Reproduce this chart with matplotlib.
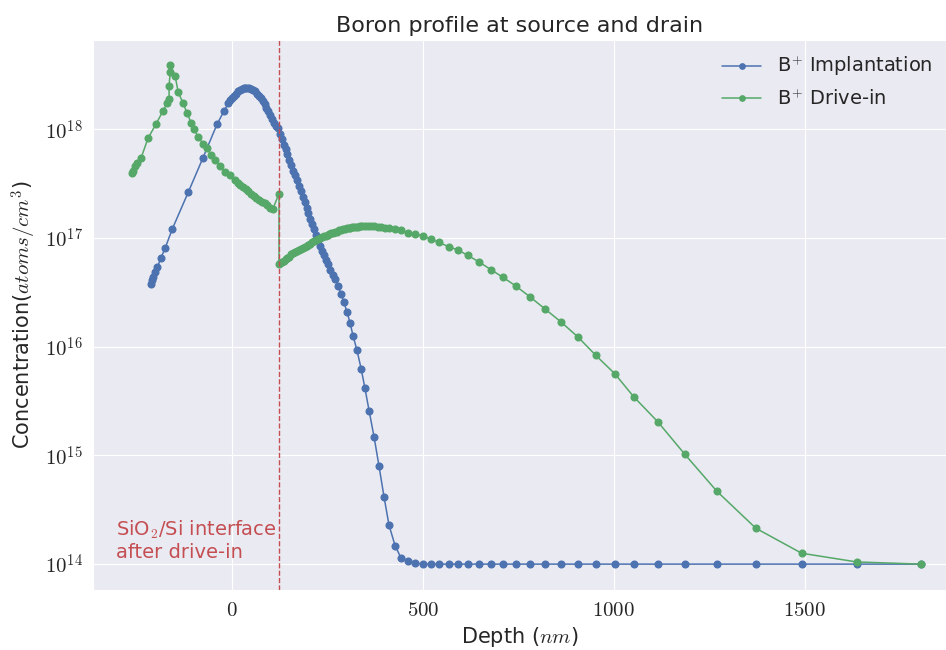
import numpy as np
import matplotlib
matplotlib.use("Agg")
import matplotlib.pyplot as plt
import matplotlib.ticker as mticker
import seaborn as sns

# Boron implantation profile (depth in nm, log10 of concentration)
implant_depth = [-212, -209, -207, -202, -196, -186, -175, -157, -115, -76, -39, -21,
                 -10, -5, 0, 5, 10, 15, 20, 25, 30, 35, 40, 45, 50, 55, 60, 65, 70, 75,
                 80, 85, 90, 95, 100, 105, 110, 115, 120, 125, 130, 135, 140, 145, 150,
                 155, 160, 165, 170, 175, 180, 185, 190, 195, 200, 205, 210, 215, 220,
                 225, 230, 235, 240, 245, 250, 257, 264, 270, 277, 285, 293, 301, 309,
                 317, 327, 338, 348, 359, 372, 385, 398, 411, 427, 442, 461, 479, 500,
                 521, 542, 568, 592, 618, 647, 678, 709, 743, 780, 819, 861, 906, 953,
                 1003, 1052, 1115, 1186, 1270, 1372, 1492, 1636, 1804]
implant_log = [16.58, 16.61, 16.64, 16.69, 16.73, 16.82, 16.91, 17.08, 17.42, 17.74, 18.05, 18.17,
               18.24, 18.27, 18.29, 18.31, 18.33, 18.35, 18.36, 18.37, 18.38, 18.38, 18.38, 18.38,
               18.37, 18.36, 18.35, 18.33, 18.31, 18.29, 18.26, 18.23, 18.20, 18.17, 18.13, 18.10,
               18.06, 18.03, 18.01, 17.96, 17.91, 17.86, 17.82, 17.77, 17.72, 17.67, 17.62, 17.58,
               17.53, 17.48, 17.43, 17.38, 17.33, 17.28, 17.23, 17.18, 17.13, 17.08, 17.03, 16.98,
               16.93, 16.88, 16.84, 16.80, 16.76, 16.71, 16.66, 16.62, 16.56, 16.49, 16.41, 16.32,
               16.22, 16.10, 15.97, 15.80, 15.62, 15.41, 15.17, 14.90, 14.62, 14.36, 14.17, 14.06,
               14.03, 14.01, 14.00, 14.00, 14.00, 14.00, 14.00, 14.00, 14.00, 14.00, 14.00, 14.00,
               14.00, 14.00, 14.00, 14.00, 14.00, 14.00, 14.00, 14.00, 14.00, 14.00, 14.00, 14.00,
               14.00, 14.00]

# Boron after drive-in
drive_depth = [-262, -259, -254, -249, -238, -220, -199, -181, -170, -165, -165, -162, -162,
               -149, -141, -128, -118, -107, -99, -89, -76, -65, -55, -45, -31, -18, -5, 8,
               15, 22, 29, 36, 43, 50, 57, 64, 71, 78, 85, 92, 99, 107, 123,
               123, 125, 130, 135, 140, 145, 150, 155, 160, 165, 170, 175, 180, 185, 190, 195,
               200, 205, 210, 215, 220, 225, 230, 235, 240, 245, 250, 255, 260, 265, 270, 275,
               280, 285, 290, 295, 300, 305, 310, 315, 320, 325, 330, 335, 340, 348, 356, 364,
               372, 381, 391, 400, 411, 427, 442, 461, 479, 500, 521, 542, 568, 592, 618, 647,
               678, 709, 743, 780, 819, 861, 906, 953, 1003, 1052, 1115, 1186, 1270, 1372,
               1492, 1636, 1804]
drive_log = [17.60, 17.62, 17.66, 17.69, 17.74, 17.92, 18.05, 18.17, 18.24, 18.28, 18.40, 18.53, 18.59,
             18.49, 18.34, 18.24, 18.15, 18.06, 18.00, 17.93, 17.87, 17.83, 17.76, 17.72, 17.66, 17.61,
             17.58, 17.53, 17.51, 17.49, 17.47, 17.45, 17.43, 17.41, 17.39, 17.37, 17.35, 17.33, 17.32,
             17.30, 17.28, 17.27, 17.41,
             16.76, 16.77, 16.78, 16.79, 16.81, 16.82, 16.83, 16.85, 16.86, 16.87, 16.88, 16.89, 16.90,
             16.91, 16.92, 16.93, 16.94, 16.95, 16.96, 16.97, 16.98, 16.99, 17.00, 17.01, 17.02, 17.02,
             17.03, 17.04, 17.05, 17.05, 17.06, 17.06, 17.07, 17.07, 17.08, 17.08, 17.09, 17.09, 17.09,
             17.10, 17.10, 17.10, 17.10, 17.11, 17.11, 17.11, 17.11, 17.11, 17.11, 17.10, 17.10, 17.09,
             17.09, 17.08, 17.07, 17.05, 17.04, 17.02, 16.99, 16.96, 16.92, 16.89, 16.84, 16.78, 16.71,
             16.64, 16.56, 16.46, 16.35, 16.23, 16.09, 15.92, 15.75, 15.54, 15.31, 15.01, 14.67, 14.33,
             14.10, 14.02, 14.00]

interface_depth = 123

sns.set_style("darkgrid")
plt.rcParams["font.family"] = ["DejaVu Sans"]
plt.rcParams["mathtext.fontset"] = "cm"

blue, green, red = "#4C72B0", "#55A868", "#C44E52"

fig = plt.figure(figsize=(9.46, 6.5), dpi=100)
ax = fig.add_axes([0.098, 0.092, 0.902, 0.846])

ax.semilogy(implant_depth, 10 ** np.array(implant_log), "o-", color=blue, lw=1.1, ms=4.8,
            label="B$^{+}$ Implantation")
ax.semilogy(drive_depth, 10 ** np.array(drive_log), "o-", color=green, lw=1.1, ms=4.8,
            label="B$^{+}$ Drive-in")
ax.axvline(interface_depth, color=red, ls="--", lw=1)
ax.text(-305, 1.05e14, "SiO$_2$/Si interface\nafter drive-in", color=red, fontsize=14,
        ha="left", va="bottom", linespacing=1.1)

ax.set_xlim(-365, 1870)
ax.set_ylim(10 ** 13.76, 10 ** 18.82)
ax.set_xticks([0, 500, 1000, 1500])
ax.xaxis.set_major_formatter(mticker.FuncFormatter(lambda v, p: "$%d$" % v))
ax.yaxis.set_major_locator(mticker.LogLocator(base=10, numticks=10))
ax.yaxis.set_minor_locator(mticker.NullLocator())
ax.yaxis.set_major_formatter(mticker.FuncFormatter(lambda v, p: "$10^{%d}$" % round(np.log10(v))))
ax.tick_params(labelsize=15)

ax.set_title("Boron profile at source and drain", fontsize=16)
ax.set_xlabel("Depth ($nm$)", fontsize=15)
ax.set_ylabel("Concentration($atoms/cm^3$)", fontsize=15)
ax.legend(loc="upper right", fontsize=14, frameon=False, borderaxespad=0.3, markerscale=0.8)

fig.savefig("out.png", dpi=100)
